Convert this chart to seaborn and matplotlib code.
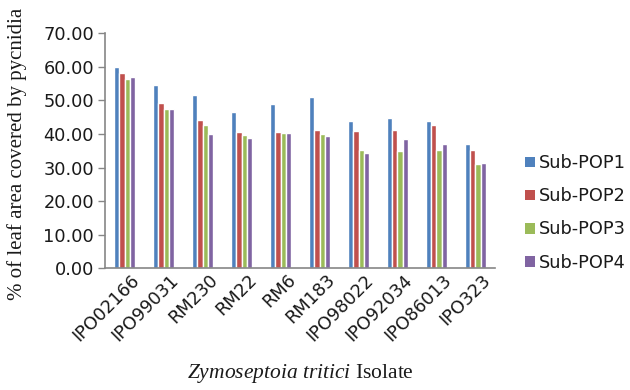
import matplotlib
matplotlib.use("Agg")
import matplotlib.pyplot as plt
import matplotlib.ticker as mticker
import matplotlib.transforms as mtransforms
from matplotlib.patches import Patch
import pandas as pd
import seaborn as sns

isolates = ["IPO02166", "IPO99031", "RM230", "RM22", "RM6", "RM183",
            "IPO98022", "IPO92034", "IPO86013", "IPO323"]
sub_pop1 = [60.0, 54.7, 51.7, 46.6, 49.0, 51.1, 43.9, 44.8, 43.9, 37.1]
sub_pop2 = [58.2, 49.3, 44.2, 40.7, 40.7, 41.3, 41.0, 41.3, 42.8, 35.3]
sub_pop3 = [56.3, 47.4, 42.8, 39.8, 40.4, 40.1, 35.3, 35.0, 35.3, 31.2]
sub_pop4 = [57.0, 47.4, 40.1, 38.9, 40.4, 39.5, 34.4, 38.6, 37.1, 31.4]
series_names = ["Sub-POP1", "Sub-POP2", "Sub-POP3", "Sub-POP4"]
colors = ["#4F81BD", "#C0504D", "#9BBB59", "#8064A2"]

rows = []
for name, vals in zip(series_names, [sub_pop1, sub_pop2, sub_pop3, sub_pop4]):
    for iso, v in zip(isolates, vals):
        rows.append({"Isolate": iso, "Series": name, "Value": v})
df = pd.DataFrame(rows)

sns.set_theme(style="white")
plt.rcParams["font.family"] = ["DejaVu Sans"]
plt.rcParams["mathtext.fontset"] = "custom"
plt.rcParams["mathtext.rm"] = "Liberation Serif"
plt.rcParams["mathtext.it"] = "Liberation Serif:italic"

fig = plt.figure(figsize=(6.3, 3.9), dpi=100)
ax = fig.add_axes([0.1667, 0.312, 0.619, 0.6026])

sns.barplot(data=df, x="Isolate", y="Value", hue="Series", order=isolates,
            hue_order=series_names, palette=colors, width=0.56, gap=0,
            saturation=1, errorbar=None, ax=ax, legend=False)

ax.set_ylim(0, 70)
ax.set_xlim(-0.5, len(isolates) - 0.5)
ax.yaxis.set_major_locator(mticker.MultipleLocator(10))
ax.yaxis.set_major_formatter(mticker.FormatStrFormatter("%.2f"))
ax.tick_params(axis="y", which="major", direction="out", length=5, width=1,
               color="#868686", labelsize=12.8, pad=3, left=True,
               labelcolor="#1a1a1a")
ax.tick_params(axis="x", length=0, labelsize=12.8, pad=2, labelcolor="#1a1a1a")
shift = mtransforms.ScaledTranslation(6 / 100, 0, fig.dpi_scale_trans)
for lbl in ax.get_xticklabels():
    lbl.set_rotation(45)
    lbl.set_ha("right")
    lbl.set_rotation_mode("anchor")
    lbl.set_transform(lbl.get_transform() + shift)

for side in ["top", "right"]:
    ax.spines[side].set_visible(False)
for side in ["left", "bottom"]:
    ax.spines[side].set_color("#868686")
    ax.spines[side].set_linewidth(1.2)

ax.set_ylabel("% of leaf area covered by pycnidia", family="Liberation Serif",
              fontsize=15, color="#1a1a1a")
ax.yaxis.set_label_coords(-0.2, 0.4885)
ax.set_xlabel(r"$\it{Zymoseptoia\ tritici}$ Isolate", family="Liberation Serif",
              fontsize=15.5, color="#1a1a1a")
ax.xaxis.set_label_coords(0.5, -0.4)

handles = [Patch(facecolor=c, edgecolor="none") for c in colors]
fig.legend(handles, series_names, loc="center left",
           bbox_to_anchor=(0.833, 0.454), frameon=False, fontsize=12.8,
           handlelength=0.55, handleheight=0.55, handletextpad=0.25,
           labelspacing=0.85, borderpad=0, borderaxespad=0,
           labelcolor="#1a1a1a")

fig.savefig("out.png", dpi=100)
